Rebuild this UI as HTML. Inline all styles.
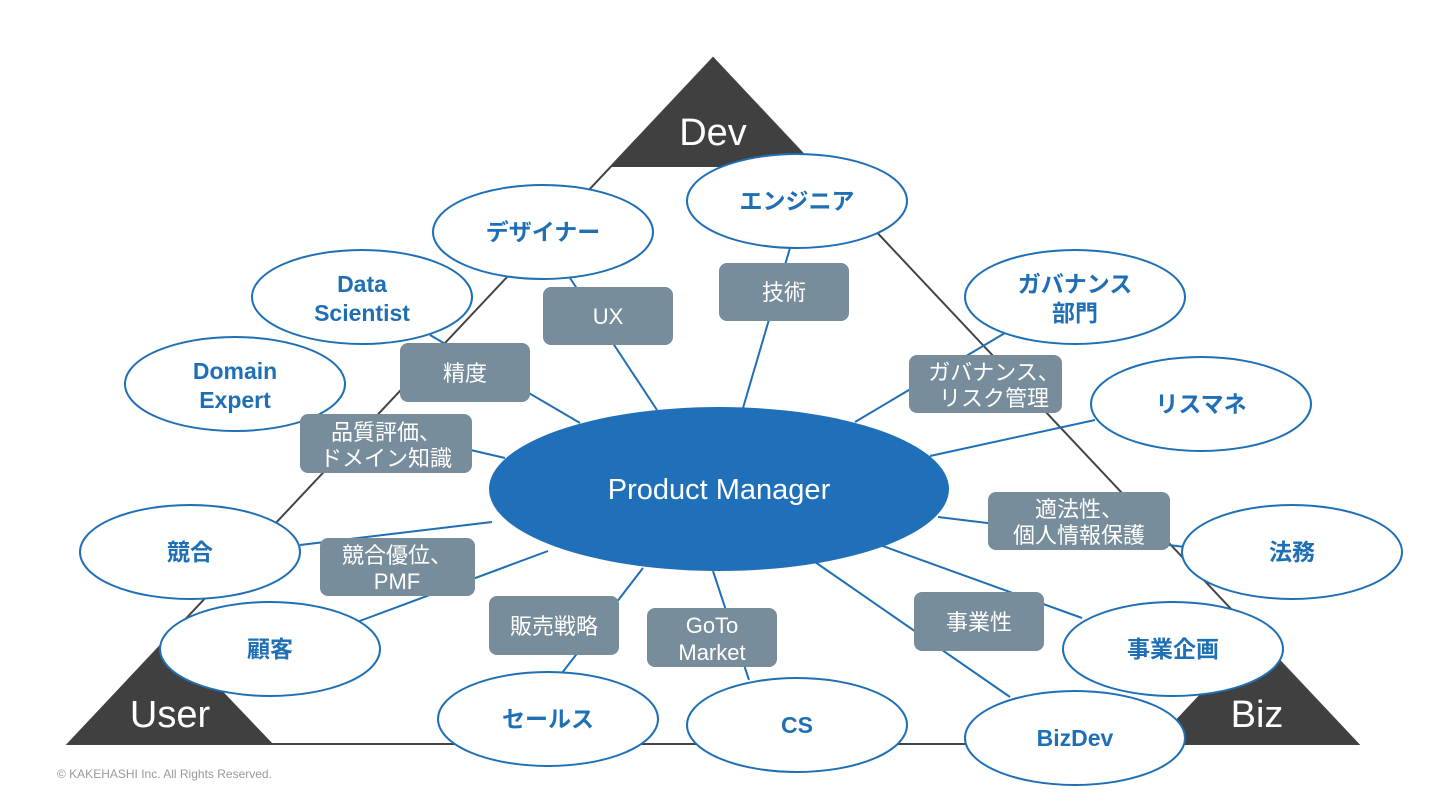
<!DOCTYPE html>
<html><head><meta charset="utf-8"><style>
body{margin:0;background:#fff;}
svg{display:block;font-family:"Liberation Sans","Noto Sans CJK JP",sans-serif;}
.e{fill:#fff;stroke:#1f6fb5;stroke-width:2}
.et{fill:#1f6fb5;font-size:23px;font-weight:bold;text-anchor:middle}
.b{fill:#778d9b}
.bt{fill:#fff;font-size:22px;text-anchor:middle}
.c{stroke:#1f6fb5;stroke-width:2}
</style></head><body>
<svg width="1440" height="810" viewBox="0 0 1440 810">
<polygon points="713,58 68,744 1358,744" fill="none" stroke="#444" stroke-width="2"/>
<polygon points="713,58 611,167 815,167" fill="#404040"/>
<polygon points="170,636 68,744 273,744" fill="#404040"/>
<polygon points="1255,636 1153,744 1358,744" fill="#404040"/>
<text x="713" y="145" fill="#fff" font-size="38" text-anchor="middle">Dev</text>
<text x="170" y="727" fill="#fff" font-size="38" text-anchor="middle">User</text>
<text x="1257" y="727" fill="#fff" font-size="38" text-anchor="middle">Biz</text>
<g class="c">
<line x1="430" y1="335" x2="580" y2="423"/>
<line x1="570" y1="278" x2="657" y2="410"/>
<line x1="320" y1="415" x2="505" y2="458"/>
<line x1="300" y1="545" x2="492" y2="522"/>
<line x1="357" y1="622" x2="548" y2="551"/>
<line x1="643" y1="568" x2="562" y2="673"/>
<line x1="713" y1="571" x2="749" y2="680"/>
<line x1="790" y1="248" x2="743" y2="408"/>
<line x1="1010" y1="330" x2="855" y2="422"/>
<line x1="1095" y1="420" x2="930" y2="456"/>
<line x1="1185" y1="547" x2="938" y2="517"/>
<line x1="1082" y1="618" x2="880" y2="545"/>
<line x1="1010" y1="697" x2="815" y2="562"/>
</g>
<ellipse class="e" cx="543" cy="232" rx="110" ry="47"/><text class="et" x="543" y="240">デザイナー</text>
<ellipse class="e" cx="797" cy="201" rx="110" ry="47"/><text class="et" x="797" y="209">エンジニア</text>
<ellipse class="e" cx="362" cy="297" rx="110" ry="47"/><text class="et" x="362" y="292">Data</text><text class="et" x="362" y="321">Scientist</text>
<ellipse class="e" cx="235" cy="384" rx="110" ry="47"/><text class="et" x="235" y="379">Domain</text><text class="et" x="235" y="408">Expert</text>
<ellipse class="e" cx="190" cy="552" rx="110" ry="47"/><text class="et" x="190" y="560">競合</text>
<ellipse class="e" cx="270" cy="649" rx="110" ry="47"/><text class="et" x="270" y="657">顧客</text>
<ellipse class="e" cx="548" cy="719" rx="110" ry="47"/><text class="et" x="548" y="727">セールス</text>
<ellipse class="e" cx="797" cy="725" rx="110" ry="47"/><text class="et" x="797" y="733">CS</text>
<ellipse class="e" cx="1075" cy="738" rx="110" ry="47"/><text class="et" x="1075" y="746">BizDev</text>
<ellipse class="e" cx="1173" cy="649" rx="110" ry="47"/><text class="et" x="1173" y="657">事業企画</text>
<ellipse class="e" cx="1292" cy="552" rx="110" ry="47"/><text class="et" x="1292" y="560">法務</text>
<ellipse class="e" cx="1201" cy="404" rx="110" ry="47"/><text class="et" x="1201" y="412">リスマネ</text>
<ellipse class="e" cx="1075" cy="297" rx="110" ry="47"/><text class="et" x="1075" y="292">ガバナンス</text><text class="et" x="1075" y="321">部門</text>
<ellipse cx="719" cy="489" rx="230" ry="82" fill="#1f70b8"/>
<text x="719" y="499" fill="#fff" font-size="29" text-anchor="middle">Product Manager</text>
<rect class="b" x="543" y="287" width="130" height="58" rx="8"/><text class="bt" x="608" y="324">UX</text>
<rect class="b" x="719" y="263" width="130" height="58" rx="8"/><text class="bt" x="784" y="300">技術</text>
<rect class="b" x="400" y="343" width="130" height="59" rx="8"/><text class="bt" x="465" y="381">精度</text>
<rect class="b" x="300" y="414" width="172" height="59" rx="8"/><text class="bt" x="386" y="440">品質評価、</text><text class="bt" x="386" y="466">ドメイン知識</text>
<rect class="b" x="909" y="355" width="153" height="58" rx="8"/><text class="bt" x="994" y="380">ガバナンス、</text><text class="bt" x="994" y="406">リスク管理</text>
<rect class="b" x="988" y="492" width="182" height="58" rx="8"/><text class="bt" x="1079" y="517">適法性、</text><text class="bt" x="1079" y="543">個人情報保護</text>
<rect class="b" x="320" y="538" width="155" height="58" rx="8"/><text class="bt" x="397" y="563">競合優位、</text><text class="bt" x="397" y="589">PMF</text>
<rect class="b" x="489" y="596" width="130" height="59" rx="8"/><text class="bt" x="554" y="634">販売戦略</text>
<rect class="b" x="647" y="608" width="130" height="59" rx="8"/><text class="bt" x="712" y="633">GoTo</text><text class="bt" x="712" y="660">Market</text>
<rect class="b" x="914" y="592" width="130" height="59" rx="8"/><text class="bt" x="979" y="630">事業性</text>
<text x="57" y="778" fill="#999" font-size="12">© KAKEHASHI Inc. All Rights Reserved.</text>
</svg>
</body></html>
